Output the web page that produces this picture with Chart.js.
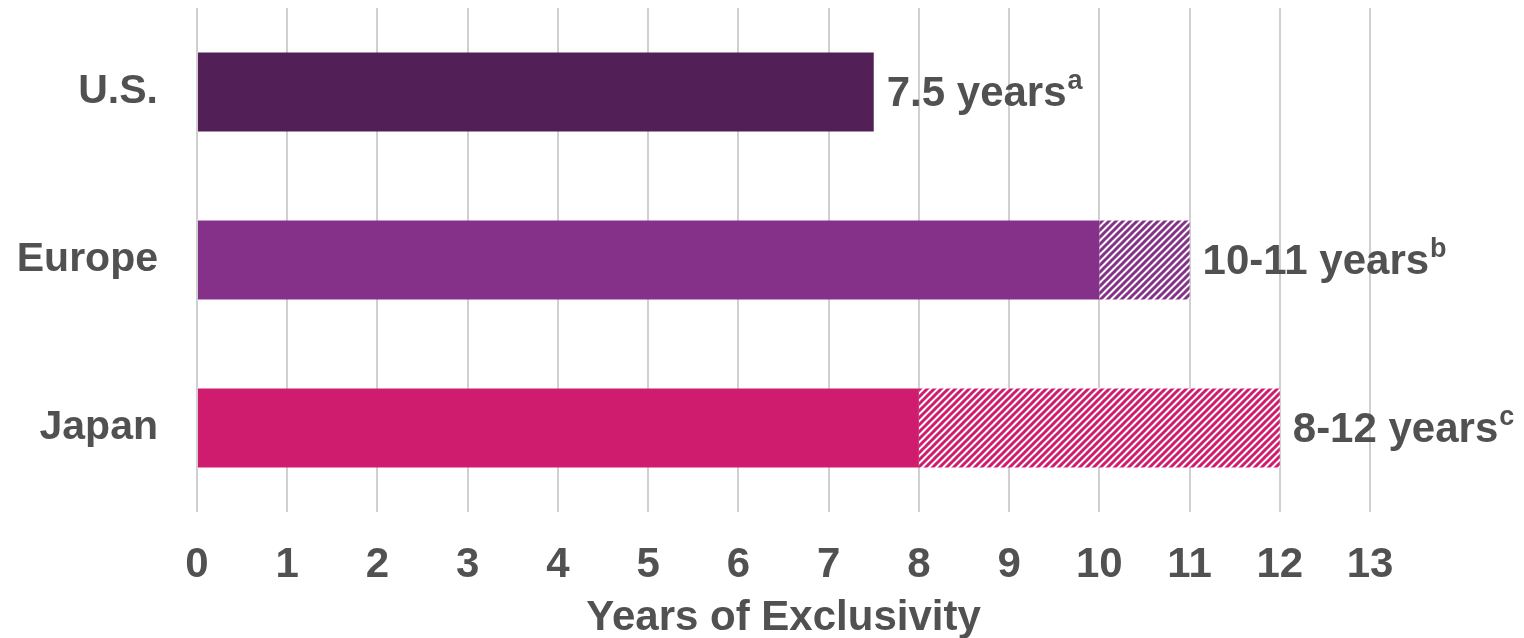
<!DOCTYPE html>
<html>
<head>
<meta charset="utf-8">
<script src="https://cdn.jsdelivr.net/npm/chart.js@4/dist/chart.umd.min.js"></script>
<style>
  html, body { margin: 0; padding: 0; background: #ffffff; }
  canvas { display: block; }
</style>
</head>
<body>
<canvas id="c" width="1524" height="638"></canvas>
<script>
// ---- Data ----
const categories = ["U.S.", "Europe", "Japan"];
const minYears = [7.5, 10, 8];
const maxYears = [7.5, 11, 12];
const valueLabels = ["7.5 years", "10-11 years", "8-12 years"];
const footnotes = ["a", "b", "c"];
const xTicks = [0,1,2,3,4,5,6,7,8,9,10,11,12,13];
const axisTitle = "Years of Exclusivity";

// ---- Styles ----
const barColors = ["#521f57", "#853189", "#cf1c6e"];
const textColor = "#515151";
const gridColor = "#d0d0d0";
const FONT = "'Liberation Sans', Arial, sans-serif";

function makeHatch(color) {
  const s = 7;
  const c = document.createElement('canvas');
  c.width = s; c.height = s;
  const g = c.getContext('2d');
  g.fillStyle = '#ffffff';
  g.fillRect(0, 0, s, s);
  g.strokeStyle = color;
  g.lineWidth = 3;
  g.beginPath();
  for (let k = -1; k <= 1; k++) {
    g.moveTo(k * s - 1, s + 1);
    g.lineTo(k * s + s + 1, -1);
  }
  g.stroke();
  return document.getElementById('c').getContext('2d').createPattern(c, 'repeat');
}

const extra = maxYears.map((m, i) => m - minYears[i]);

const labelPlugin = {
  id: 'valueLabels',
  afterDatasetsDraw(chart) {
    const ctx = chart.ctx;
    const meta0 = chart.getDatasetMeta(0);
    const meta1 = chart.getDatasetMeta(1);
    ctx.save();
    ctx.fillStyle = textColor;
    ctx.textBaseline = 'middle';
    ctx.textAlign = 'left';
    categories.forEach((c, i) => {
      const el = extra[i] > 0 ? meta1.data[i] : meta0.data[i];
      const x = el.x + 13;
      const y = el.y + 2;
      ctx.font = "bold 42px " + FONT;
      ctx.fillText(valueLabels[i], x, y);
      const w = ctx.measureText(valueLabels[i]).width;
      ctx.font = "bold 27px " + FONT;
      ctx.fillText(footnotes[i], x + w + 1, y - 12);
    });
    ctx.restore();
  }
};

new Chart(document.getElementById('c'), {
  type: 'bar',
  data: {
    labels: categories,
    datasets: [
      {
        data: minYears,
        backgroundColor: barColors,
        borderWidth: 0,
        barPercentage: 0.47,
        categoryPercentage: 1.0
      },
      {
        data: extra,
        backgroundColor: barColors.map(makeHatch),
        borderWidth: 0,
        barPercentage: 0.47,
        categoryPercentage: 1.0
      }
    ]
  },
  options: {
    indexAxis: 'y',
    responsive: false,
    animation: false,
    events: [],
    layout: { padding: { top: 8, right: 154, left: 0, bottom: 0 } },
    plugins: { legend: { display: false }, tooltip: { enabled: false } },
    scales: {
      x: {
        stacked: true,
        min: 0,
        max: 13,
        afterBuildTicks(scale) { scale.ticks = xTicks.map(v => ({ value: v })); },
        afterFit(scale) { scale.height = 126; scale.paddingLeft = 0; scale.paddingRight = 0; },
        grid: { color: gridColor, lineWidth: 2, drawTicks: false },
        border: { display: false },
        ticks: {
          color: textColor,
          font: { family: FONT, size: 42, weight: 'bold' },
          padding: 28,
          maxRotation: 0,
          autoSkip: false
        },
        title: {
          display: true,
          text: axisTitle,
          color: textColor,
          font: { family: FONT, size: 42, weight: 'bold' },
          padding: { top: 0, bottom: -6 }
        }
      },
      y: {
        stacked: true,
        afterFit(scale) { scale.width = 197; scale.paddingTop = 0; scale.paddingBottom = 0; },
        grid: { display: false, drawTicks: false },
        border: { display: false },
        ticks: {
          color: textColor,
          font: { family: FONT, size: 41, weight: 'bold' },
          padding: 39
        }
      }
    }
  },
  plugins: [labelPlugin]
});
</script>
</body>
</html>
